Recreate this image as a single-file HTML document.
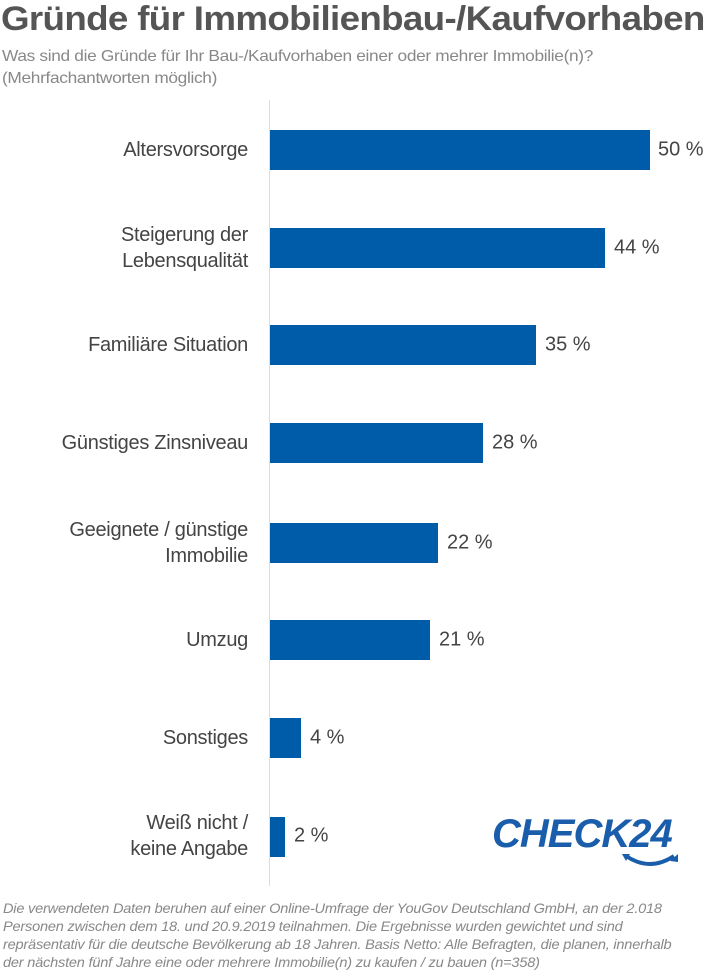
<!DOCTYPE html>
<html><head><meta charset="utf-8"><style>
body{margin:0;width:710px;height:976px;background:#fff;font-family:"Liberation Sans",sans-serif;position:relative;overflow:hidden}
.t{position:absolute;left:1px;top:0px;font-size:34px;font-weight:bold;color:#555;letter-spacing:-0.6px;white-space:nowrap;transform:scaleX(1.08);transform-origin:left}
.s{position:absolute;left:2px;top:46px;font-size:16px;color:#888;line-height:22px;letter-spacing:-0.3px;white-space:nowrap;transform:scaleX(1.08);transform-origin:left}
.ax{position:absolute;left:269px;top:100px;width:1px;height:786px;background:#ddd}
.l{position:absolute;right:462px;font-size:20px;color:#444;text-align:right;line-height:26px;letter-spacing:-0.3px;transform:translateY(-50%)}
.b{position:absolute;left:270px;height:40px;background:#005ca9}
.v{position:absolute;font-size:20px;color:#444;transform:translateY(-50%)}
.f{position:absolute;left:3px;top:899px;font-size:14px;font-style:italic;color:#888;line-height:18px;letter-spacing:-0.2px;white-space:nowrap;transform:scaleX(1.04);transform-origin:left}
.logo{position:absolute;left:492px;top:812px;font-size:40px;font-weight:bold;font-style:italic;color:#1a5eab;letter-spacing:-1px}
</style></head><body>
<div class="t">Gründe für Immobilienbau-/Kaufvorhaben</div>
<div class="s">Was sind die Gründe für Ihr Bau-/Kaufvorhaben einer oder mehrer Immobilie(n)?<br>(Mehrfachantworten möglich)</div>
<div class="ax"></div>

<div class="l" style="top:150px">Altersvorsorge</div><div class="b" style="top:130px;width:380px"></div><div class="v" style="top:150px;left:658px">50 %</div>
<div class="l" style="top:248px">Steigerung der<br>Lebensqualität</div><div class="b" style="top:228px;width:335px"></div><div class="v" style="top:248px;left:614px">44 %</div>
<div class="l" style="top:345px">Familiäre Situation</div><div class="b" style="top:325px;width:266px"></div><div class="v" style="top:345px;left:545px">35 %</div>
<div class="l" style="top:443px">Günstiges Zinsniveau</div><div class="b" style="top:423px;width:213px"></div><div class="v" style="top:443px;left:492px">28 %</div>
<div class="l" style="top:543px">Geeignete / günstige<br>Immobilie</div><div class="b" style="top:523px;width:168px"></div><div class="v" style="top:543px;left:447px">22 %</div>
<div class="l" style="top:640px">Umzug</div><div class="b" style="top:620px;width:160px"></div><div class="v" style="top:640px;left:439px">21 %</div>
<div class="l" style="top:738px">Sonstiges</div><div class="b" style="top:718px;width:31px"></div><div class="v" style="top:738px;left:310px">4 %</div>
<div class="l" style="top:836px">Weiß nicht /<br>keine Angabe</div><div class="b" style="top:817px;width:15px"></div><div class="v" style="top:836px;left:294px">2 %</div>

<div class="logo">CHECK24</div>
<svg style="position:absolute;left:620px;top:852px" width="62" height="20"><path d="M6 4 Q30 20 54 4" stroke="#1a5eab" stroke-width="4" fill="none"/><path d="M2 2 L10 2 L6 9Z M50 9 L58 2 L58 10Z" fill="#1a5eab"/></svg>

<div class="f">Die verwendeten Daten beruhen auf einer Online-Umfrage der YouGov Deutschland GmbH, an der 2.018<br>Personen zwischen dem 18. und 20.9.2019 teilnahmen. Die Ergebnisse wurden gewichtet und sind<br>repräsentativ für die deutsche Bevölkerung ab 18 Jahren. Basis Netto: Alle Befragten, die planen, innerhalb<br>der nächsten fünf Jahre eine oder mehrere Immobilie(n) zu kaufen / zu bauen (n=358)</div>
</body></html>
